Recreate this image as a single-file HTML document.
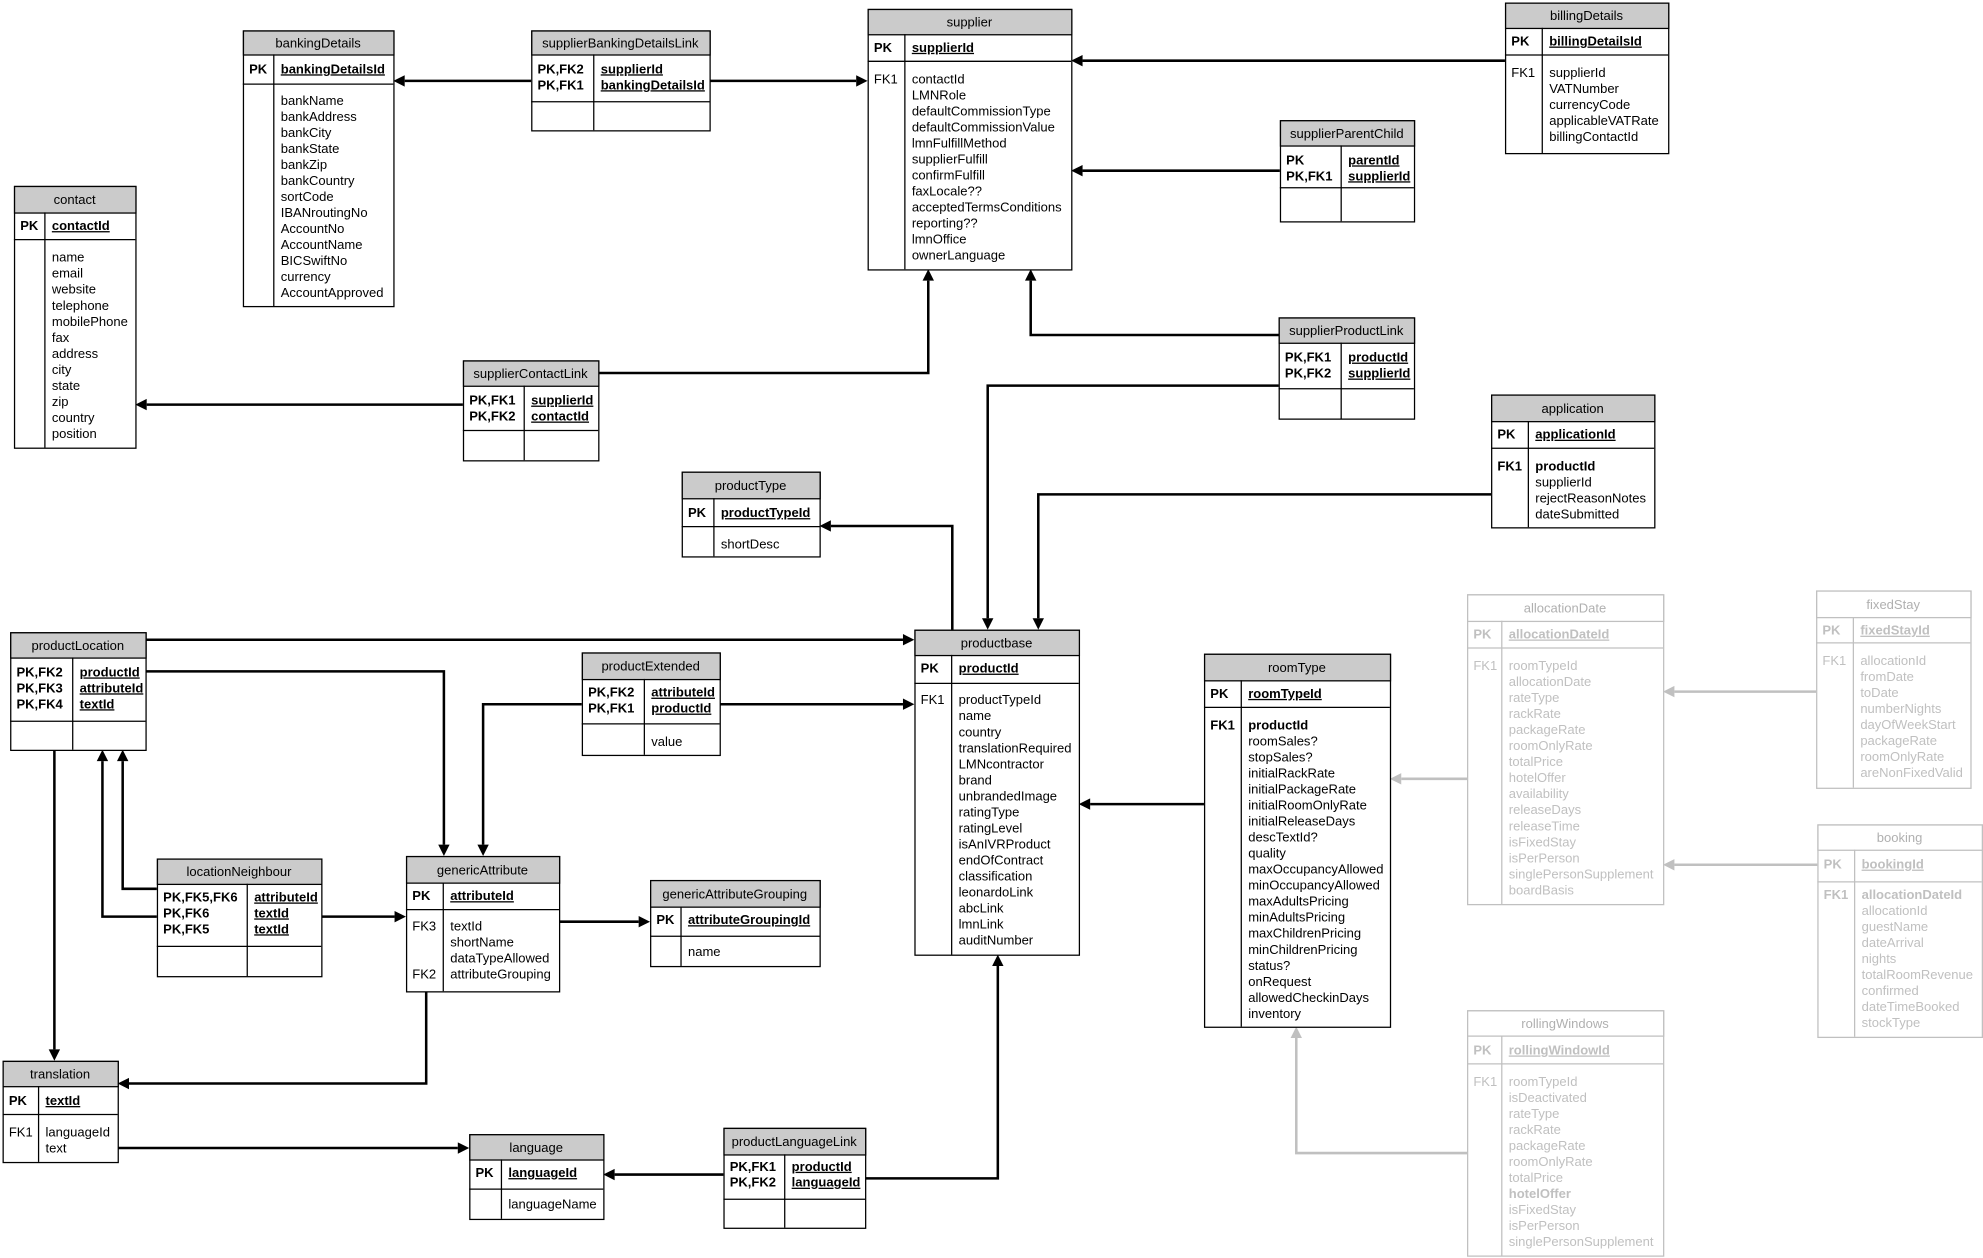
<!DOCTYPE html>
<html><head><meta charset="utf-8"><style>
html,body{margin:0;padding:0;background:#fff;}
svg{display:block;}
text{font-family:"Liberation Sans",Arial,sans-serif;font-size:10.3px;}
</style></head><body>
<svg id="s" width="1983" height="1258" viewBox="0 0 1568 995" preserveAspectRatio="none" xmlns="http://www.w3.org/2000/svg"></svg>
<script>
var S=document.getElementById('s'),out='';
function esc(t){return t.replace(/&/g,'&amp;').replace(/</g,'&lt;');}
function T(x,y,t,o){o=o||{};out+='<text x="'+x+'" y="'+y+'" fill="'+(o.c||'#000')+'"'+(o.b?' font-weight="bold"':'')+(o.u?' text-decoration="underline"':'')+(o.m?' text-anchor="middle"':'')+'>'+esc(t)+'</text>';}
function R(x,y,w,h,f,c){out+='<rect x="'+x+'" y="'+y+'" width="'+w+'" height="'+h+'" fill="'+f+'" stroke="'+c+'" stroke-width="1"/>';}
function L(x1,y1,x2,y2,c,w){out+='<line x1="'+x1+'" y1="'+y1+'" x2="'+x2+'" y2="'+y2+'" stroke="'+c+'" stroke-width="'+(w||1)+'"/>';}
// t: {x,y,w,h,hh(header bottom),pe(pk section end),d(divider x),title,pk:[[key,name]],pkY:[ys],fk:[[key,name,bold]],fy,g}
function tab(t){
 var c=t.g?'#c0c0c0':'#000';
 R(t.x+.5,t.y+.5,t.w,t.h,'#fff',c);
 R(t.x+.5,t.y+.5,t.w,t.hh-t.y,t.g?'#fff':'#cbcbcb',c);
 L(t.x,t.pe+.5,t.x+t.w,t.pe+.5,c);
 L(t.d+.5,t.hh,t.d+.5,t.y+t.h,c);
 T(t.x+t.w/2,t.y+(t.hh-t.y)/2+4,t.title,{m:1,c:t.g?'#b0b0b0':'#000'});
 var kx=t.x+5,nx=t.d+6;
 t.pk.forEach(function(p,i){var y=t.py+i*12.6+4;T(kx,y,p[0],{b:1,c:c});T(nx,y,p[1],{b:1,u:1,c:c});});
 var y=t.fy;
 (t.fk||[]).forEach(function(f,i){var yy=y+i*12.67+4;if(f[0])T(kx,yy,f[0],{b:f[2]==2,c:c});T(nx,yy,f[1],{b:f[2],c:c});});
}
function F(list,first){return list.map(function(n,i){return [i==0&&first?first:'',n,0];});}
var tables=[
{x:192,y:24,w:119,h:218,hh:43,pe:66,d:216,title:'bankingDetails',pk:[['PK','bankingDetailsId']],py:54,fy:79,fk:F(['bankName','bankAddress','bankCity','bankState','bankZip','bankCountry','sortCode','IBANroutingNo','AccountNo','AccountName','BICSwiftNo','currency','AccountApproved'])},
{x:420,y:24,w:141,h:79,hh:43,pe:80,d:469,title:'supplierBankingDetailsLink',pk:[['PK,FK2','supplierId'],['PK,FK1','bankingDetailsId']],py:54,fy:0,fk:[]},
{x:686,y:7,w:161,h:206,hh:27,pe:48,d:715,title:'supplier',pk:[['PK','supplierId']],py:37,fy:62,fk:F(['contactId','LMNRole','defaultCommissionType','defaultCommissionValue','lmnFulfillMethod','supplierFulfill','confirmFulfill','faxLocale??','acceptedTermsConditions','reporting??','lmnOffice','ownerLanguage'],'FK1')},
{x:1190,y:2,w:129,h:119,hh:22,pe:43,d:1219,title:'billingDetails',pk:[['PK','billingDetailsId']],py:32,fy:57,fk:F(['supplierId','VATNumber','currencyCode','applicableVATRate','billingContactId'],'FK1')},
{x:1012,y:95,w:106,h:80,hh:115,pe:148,d:1060,title:'supplierParentChild',pk:[['PK','parentId'],['PK,FK1','supplierId']],py:126,fy:0,fk:[]},
{x:11,y:147,w:96,h:207,hh:168,pe:189,d:35,title:'contact',pk:[['PK','contactId']],py:178,fy:203,fk:F(['name','email','website','telephone','mobilePhone','fax','address','city','state','zip','country','position'])},
{x:366,y:285,w:107,h:79,hh:305,pe:340,d:414,title:'supplierContactLink',pk:[['PK,FK1','supplierId'],['PK,FK2','contactId']],py:316,fy:0,fk:[]},
{x:1011,y:251,w:107,h:80,hh:271,pe:307,d:1060,title:'supplierProductLink',pk:[['PK,FK1','productId'],['PK,FK2','supplierId']],py:282,fy:0,fk:[]},
{x:1179,y:312,w:129,h:105,hh:333,pe:354,d:1208,title:'application',pk:[['PK','applicationId']],py:343,fy:368,fk:[['FK1','productId',2],['','supplierId',0],['','rejectReasonNotes',0],['','dateSubmitted',0]]},
{x:539,y:373,w:109,h:67,hh:394,pe:416,d:564,title:'productType',pk:[['PK','productTypeId']],py:405,fy:430,fk:F(['shortDesc'])},
{x:8,y:500,w:107,h:93,hh:520,pe:570,d:57,title:'productLocation',pk:[['PK,FK2','productId'],['PK,FK3','attributeId'],['PK,FK4','textId']],py:531,fy:0,fk:[]},
{x:460,y:516,w:109,h:81,hh:537,pe:572,d:509,title:'productExtended',pk:[['PK,FK2','attributeId'],['PK,FK1','productId']],py:547,fy:586,fk:F(['value'])},
{x:723,y:498,w:130,h:257,hh:518,pe:540,d:752,title:'productbase',pk:[['PK','productId']],py:528,fy:553,fk:F(['productTypeId','name','country','translationRequired','LMNcontractor','brand','unbrandedImage','ratingType','ratingLevel','isAnIVRProduct','endOfContract','classification','leonardoLink','abcLink','lmnLink','auditNumber'],'FK1')},
{x:952,y:517,w:147,h:295,hh:538,pe:559,d:981,title:'roomType',pk:[['PK','roomTypeId']],py:548,fy:573,fk:[['FK1','productId',2]].concat(F(['roomSales?','stopSales?','initialRackRate','initialPackageRate','initialRoomOnlyRate','initialReleaseDays','descTextId?','quality','maxOccupancyAllowed','minOccupancyAllowed','maxAdultsPricing','minAdultsPricing','maxChildrenPricing','minChildrenPricing','status?','onRequest','allowedCheckinDays','inventory']))},
{g:1,x:1160,y:470,w:155,h:245,hh:491,pe:512,d:1187,title:'allocationDate',pk:[['PK','allocationDateId']],py:501,fy:526,fk:F(['roomTypeId','allocationDate','rateType','rackRate','packageRate','roomOnlyRate','totalPrice','hotelOffer','availability','releaseDays','releaseTime','isFixedStay','isPerPerson','singlePersonSupplement','boardBasis'],'FK1')},
{g:1,x:1436,y:467,w:122,h:156,hh:488,pe:508,d:1465,title:'fixedStay',pk:[['PK','fixedStayId']],py:498,fy:522,fk:F(['allocationId','fromDate','toDate','numberNights','dayOfWeekStart','packageRate','roomOnlyRate','areNonFixedValid'],'FK1')},
{g:1,x:1437,y:652,w:130,h:168,hh:672,pe:697,d:1466,title:'booking',pk:[['PK','bookingId']],py:683,fy:707,fk:[['FK1','allocationDateId',2]].concat(F(['allocationId','guestName','dateArrival','nights','totalRoomRevenue','confirmed','dateTimeBooked','stockType']))},
{g:1,x:1160,y:799,w:155,h:194,hh:819,pe:841,d:1187,title:'rollingWindows',pk:[['PK','rollingWindowId']],py:830,fy:855,fk:(function(){var a=F(['roomTypeId','isDeactivated','rateType','rackRate','packageRate','roomOnlyRate','totalPrice','hotelOffer','isFixedStay','isPerPerson','singlePersonSupplement'],'FK1');a[7][2]=1;return a;})()},
{x:124,y:679,w:130,h:93,hh:699,pe:748,d:195,title:'locationNeighbour',pk:[['PK,FK5,FK6','attributeId'],['PK,FK6','textId'],['PK,FK5','textId']],py:709,fy:0,fk:[]},
{x:321,y:677,w:121,h:107,hh:698,pe:719,d:350,title:'genericAttribute',pk:[['PK','attributeId']],py:708,fy:732,fk:[['FK3','textId',0],['','shortName',0],['','dataTypeAllowed',0],['FK2','attributeGrouping',0]]},
{x:514,y:696,w:134,h:68,hh:717,pe:740,d:538,title:'genericAttributeGrouping',pk:[['PK','attributeGroupingId']],py:727,fy:752,fk:F(['name'])},
{x:2,y:839,w:91,h:80,hh:859,pe:881,d:30,title:'translation',pk:[['PK','textId']],py:870,fy:895,fk:F(['languageId','text'],'FK1')},
{x:371,y:897,w:106,h:67,hh:917,pe:940,d:396,title:'language',pk:[['PK','languageId']],py:927,fy:952,fk:F(['languageName'])},
{x:572,y:892,w:112,h:79,hh:913,pe:948,d:620,title:'productLanguageLink',pk:[['PK,FK1','productId'],['PK,FK2','languageId']],py:922,fy:0,fk:[]}
];
// connectors: polyline points, arrow at last point
function C(pts,g){
 var c=g?'#c0c0c0':'#000';
 var s=pts.map(function(p){return p[0]+','+p[1];}).join(' ');
 var n=pts.length,a=pts[n-1],b=pts[n-2];
 var dx=Math.sign(a[0]-b[0]),dy=Math.sign(a[1]-b[1]);
 var e=[a[0]-dx*9,a[1]-dy*9];
 var q=pts.slice(0,n-1).concat([e]).map(function(p){return p[0]+','+p[1];}).join(' ');
 out+='<polyline points="'+q+'" fill="none" stroke="'+c+'" stroke-width="2"/>';
 var px=-dy*4.5,py=dx*4.5;
 out+='<polygon points="'+a[0]+','+a[1]+' '+(e[0]+px)+','+(e[1]+py)+' '+(e[0]-px)+','+(e[1]-py)+'" fill="'+c+'"/>';
}
var conns=[
[[[420,64],[311,64]]],[[[561,64],[686,64]]],
[[[1190,48],[847,48]]],[[[1012,135],[847,135]]],
[[[473,295],[734,295],[734,213]]],[[[366,320],[107,320]]],
[[[1011,265],[815,265],[815,213]]],[[[1011,305],[781,305],[781,498]]],
[[[1179,391],[821,391],[821,498]]],
[[[753,498],[753,416],[648,416]]],
[[[115,506],[723,506]]],[[[115,531],[351,531],[351,677]]],[[[43,593],[43,839]]],
[[[124,703],[97,703],[97,593]]],[[[124,725],[81,725],[81,593]]],[[[254,725],[321,725]]],
[[[460,557],[382,557],[382,677]]],[[[569,557],[723,557]]],
[[[442,729],[514,729]]],
[[[337,784],[337,857],[93,857]]],
[[[93,908],[371,908]]],
[[[572,929],[477,929]]],[[[684,932],[789,932],[789,755]]],
[[[952,636],[853,636]]],
[[[1160,616],[1099,616]],1],[[[1436,547],[1315,547]],1],[[[1437,684],[1315,684]],1],[[[1160,912],[1025,912],[1025,812]],1]
];
conns.forEach(function(c){C(c[0],c[1]);});
tables.forEach(tab);
S.innerHTML=out;
</script>
</body></html>
